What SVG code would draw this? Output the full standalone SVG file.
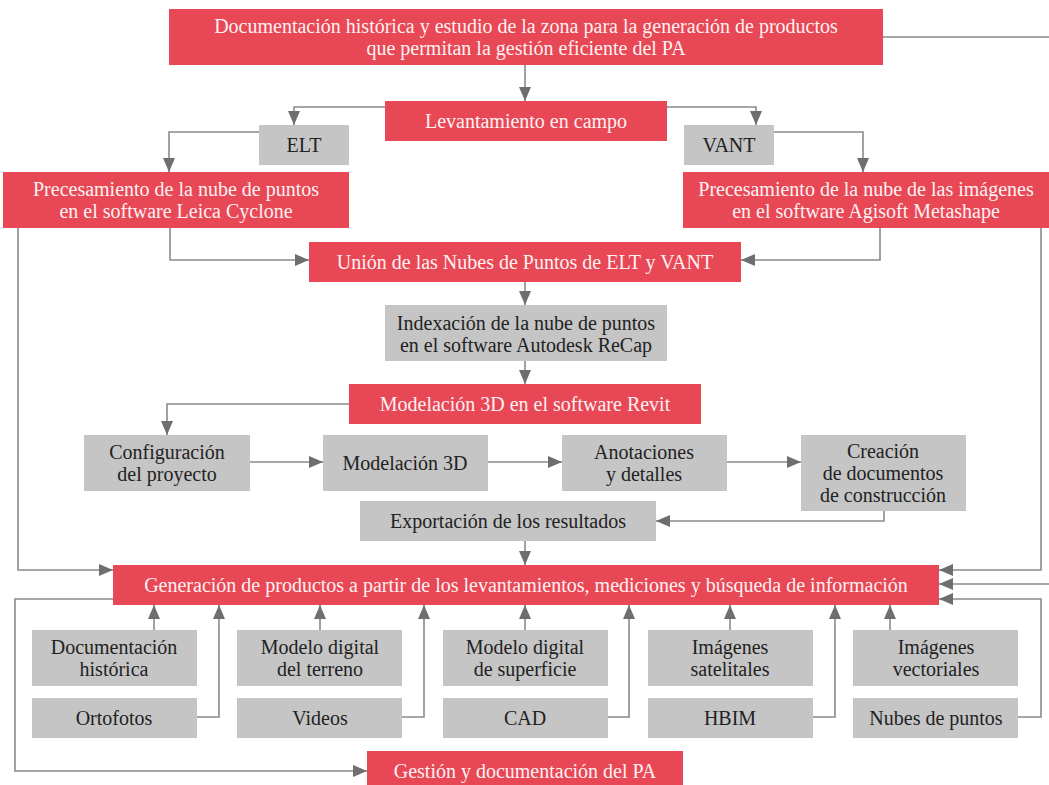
<svg xmlns="http://www.w3.org/2000/svg" width="1049" height="785" viewBox="0 0 1049 785">
<defs>
<marker id="ah" viewBox="0 0 14 12" refX="14" refY="6" markerWidth="14" markerHeight="12" markerUnits="userSpaceOnUse" orient="auto">
<path d="M0,0 L14,6 L0,12 z" fill="#6e6e6e"/>
</marker>
<style>
.r{fill:#E84756}
.g{fill:#C5C5C5}
text{font-family:"Liberation Serif","DejaVu Serif",serif;font-size:20px;text-anchor:middle}
.wt{fill:#FFF1F1}
.dt{fill:#222222}
.c path{fill:none;stroke:#8a8a8a;stroke-width:1.6}
.c path.a{marker-end:url(#ah)}
</style>
</defs>
<rect width="1049" height="785" fill="#ffffff"/>
<g class="c" id="connectors">
<path class="a" d="M525,65 V101"/>
<path class="a" d="M883,37 H1058 V584 H939"/>
<path class="a" d="M385,107 H294 V125"/>
<path class="a" d="M667,107 H756 V125"/>
<path class="a" d="M259,132 H169 V172"/>
<path class="a" d="M774,132 H863 V172"/>
<path class="a" d="M170,228 V260 H309"/>
<path class="a" d="M880,228 V260 H741"/>
<path class="a" d="M18,228 V570 H113"/>
<path class="a" d="M1041,228 V570 H939"/>
<path class="a" d="M525,282 V305"/>
<path class="a" d="M525,361 V384"/>
<path class="a" d="M349,404 H167 V435"/>
<path class="a" d="M250,462 H323"/>
<path class="a" d="M488,462 H562"/>
<path class="a" d="M727,462 H801"/>
<path class="a" d="M884,511 V521 H656"/>
<path class="a" d="M525,541 V565"/>
<path class="a" d="M113,599 H15 V771 H367"/>
<path class="a" d="M154,630 V605"/>
<path class="a" d="M320,630 V605"/>
<path class="a" d="M525,630 V605"/>
<path class="a" d="M730,630 V605"/>
<path class="a" d="M890,630 V605"/>
<path class="a" d="M197,717 H219 V605"/>
<path class="a" d="M402,717 H424 V605"/>
<path class="a" d="M608,717 H629 V605"/>
<path class="a" d="M813,717 H835 V605"/>
<path class="a" d="M1018,717 H1041 V599 H939"/>
</g>
<g id="n-top"><rect class="r" x="169" y="9" width="714" height="56"/>
<text class="wt" x="526" y="33">Documentación histórica y estudio de la zona para la generación de productos</text>
<text class="wt" x="526" y="55">que permitan la gestión eficiente del PA</text></g>
<g id="n-lev"><rect class="r" x="385" y="101" width="282" height="40"/><text class="wt" x="526" y="128">Levantamiento en campo</text></g>
<g id="n-elt"><rect class="g" x="259" y="125" width="90" height="40"/><text class="dt" x="304" y="152">ELT</text></g>
<g id="n-vant"><rect class="g" x="684" y="125" width="90" height="40"/><text class="dt" x="729" y="152">VANT</text></g>
<g id="n-leica"><rect class="r" x="3" y="172" width="346" height="56"/>
<text class="wt" x="176" y="196">Precesamiento de la nube de puntos</text>
<text class="wt" x="176" y="218">en el software Leica Cyclone</text></g>
<g id="n-meta"><rect class="r" x="683" y="172" width="366" height="56"/>
<text class="wt" x="866" y="196">Precesamiento de la nube de las imágenes</text>
<text class="wt" x="866" y="218">en el software Agisoft Metashape</text></g>
<g id="n-union"><rect class="r" x="309" y="242" width="432" height="40"/><text class="wt" x="525" y="269">Unión de las Nubes de Puntos de ELT y VANT</text></g>
<g id="n-index"><rect class="g" x="385" y="305" width="282" height="56"/>
<text class="dt" x="526" y="330">Indexación de la nube de puntos</text>
<text class="dt" x="526" y="352">en el software Autodesk ReCap</text></g>
<g id="n-revit"><rect class="r" x="349" y="384" width="352" height="40"/><text class="wt" x="525" y="411">Modelación 3D en el software Revit</text></g>
<g id="n-config"><rect class="g" x="84" y="435" width="166" height="56"/>
<text class="dt" x="167" y="459">Configuración</text><text class="dt" x="167" y="481">del proyecto</text></g>
<g id="n-model"><rect class="g" x="323" y="435" width="165" height="56"/><text class="dt" x="405" y="470">Modelación 3D</text></g>
<g id="n-anot"><rect class="g" x="562" y="435" width="165" height="56"/>
<text class="dt" x="644" y="459">Anotaciones</text><text class="dt" x="644" y="481">y detalles</text></g>
<g id="n-crea"><rect class="g" x="801" y="435" width="165" height="76"/>
<text class="dt" x="883" y="458">Creación</text><text class="dt" x="883" y="480">de documentos</text><text class="dt" x="883" y="502">de construcción</text></g>
<g id="n-export"><rect class="g" x="360" y="501" width="296" height="40"/><text class="dt" x="508" y="528">Exportación de los resultados</text></g>
<g id="n-gen"><rect class="r" x="113" y="565" width="826" height="40"/><text class="wt" x="526" y="592">Generación de productos a partir de los levantamientos, mediciones y búsqueda de información</text></g>
<g id="n-doc"><rect class="g" x="32" y="630" width="165" height="56"/><text class="dt" x="114" y="654">Documentación</text><text class="dt" x="114" y="676">histórica</text></g>
<g id="n-mdt"><rect class="g" x="237" y="630" width="165" height="56"/><text class="dt" x="320" y="654">Modelo digital</text><text class="dt" x="320" y="676">del terreno</text></g>
<g id="n-mds"><rect class="g" x="443" y="630" width="165" height="56"/><text class="dt" x="525" y="654">Modelo digital</text><text class="dt" x="525" y="676">de superficie</text></g>
<g id="n-sat"><rect class="g" x="648" y="630" width="165" height="56"/><text class="dt" x="730" y="654">Imágenes</text><text class="dt" x="730" y="676">satelitales</text></g>
<g id="n-vec"><rect class="g" x="853" y="630" width="165" height="56"/><text class="dt" x="936" y="654">Imágenes</text><text class="dt" x="936" y="676">vectoriales</text></g>
<g id="n-orto"><rect class="g" x="32" y="698" width="165" height="40"/><text class="dt" x="114" y="725">Ortofotos</text></g>
<g id="n-vid"><rect class="g" x="237" y="698" width="165" height="40"/><text class="dt" x="320" y="725">Videos</text></g>
<g id="n-cad"><rect class="g" x="443" y="698" width="165" height="40"/><text class="dt" x="525" y="725">CAD</text></g>
<g id="n-hbim"><rect class="g" x="648" y="698" width="165" height="40"/><text class="dt" x="730" y="725">HBIM</text></g>
<g id="n-nubes"><rect class="g" x="853" y="698" width="165" height="40"/><text class="dt" x="936" y="725">Nubes de puntos</text></g>
<g id="n-gest"><rect class="r" x="367" y="751" width="316" height="36"/><text class="wt" x="525" y="778">Gestión y documentación del PA</text></g>
</svg>
